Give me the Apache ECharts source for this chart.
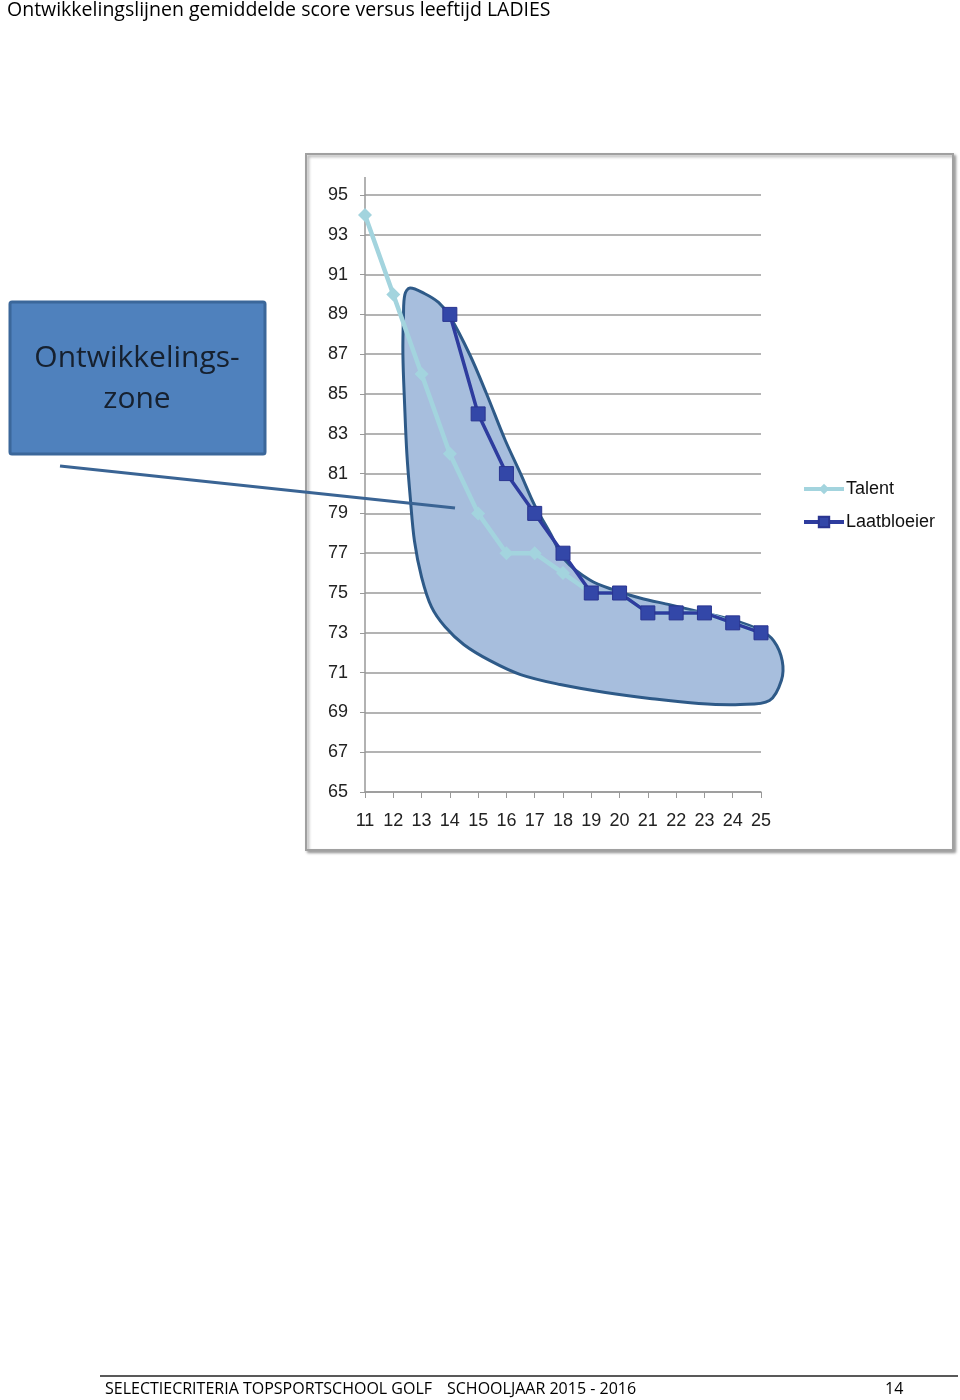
<!DOCTYPE html>
<html><head><meta charset="utf-8">
<style>html,body{margin:0;padding:0;background:#fff}#c{width:960px;height:1400px}</style>
<script src="https://cdn.jsdelivr.net/npm/echarts@6/dist/echarts.min.js"></script>
</head><body><div id="c"></div>
<script>
const ages = [11,12,13,14,15,16,17,18,19,20,21,22,23,24,25];
const talent = [94,90,86,82,79,77,77,76,75,75,74,74,74,73.5,73];
const laatbloeier = [null,null,null,89,84,81,79,77,75,75,74,74,74,73.5,73];
const yTicks = {min:65,max:95,interval:2};
// outline of the development zone, [age, score]
const zoneX = [12.59,13.1,13.6,14.0,14.71,15.3,15.95,16.5,17.0,17.55,18.07,18.95,19.8,20.72,21.8,22.84,24.0,24.96,25.45,25.75,25.72,25.3,24.26,22.8,21.07,19.5,17.9,16.5,15.42,14.5,13.83,13.35,13.0,12.75,12.6,12.48,12.4,12.34,12.36,12.41];
const zoneY = [90.33,90.05,89.6,88.9,86.96,85.0,82.7,81.0,79.4,78.0,76.66,75.65,75.15,74.75,74.4,74.05,73.65,73.14,72.6,71.6,70.6,69.6,69.4,69.45,69.7,70.0,70.4,70.9,71.6,72.4,73.3,74.3,75.8,77.6,79.8,82.0,84.5,87.0,88.9,90.0];

const chart = echarts.init(document.getElementById('c'));
const zone = zoneX.map((x,i)=>[x,zoneY[i]]);
const font = '"Liberation Sans", Arial, sans-serif';
chart.setOption({
  animation:false,
  graphic:[
    {type:'text',left:7,top:0,style:{text:'Ontwikkelingslijnen gemiddelde score versus leeftijd LADIES',font:'19.5px "Open Sans", sans-serif',fill:'#000'}},
    {type:'rect',shape:{x:306,y:154,width:647,height:696},style:{fill:'#fff',stroke:'#a0a0a0',lineWidth:2,shadowColor:'rgba(0,0,0,0.35)',shadowOffsetX:2,shadowOffsetY:2,shadowBlur:3},z:-10},
    {type:'rect',shape:{x:10,y:302,width:255,height:152,r:2},style:{fill:'#4F81BD',stroke:'#3B679A',lineWidth:3}},
    {type:'text',x:137,y:358,style:{text:'Ontwikkelings-',font:'30px "Open Sans", sans-serif',fill:'#16202e',align:'center',verticalAlign:'middle'}},
    {type:'text',x:137,y:399,style:{text:'zone',font:'30px "Open Sans", sans-serif',fill:'#16202e',align:'center',verticalAlign:'middle'}},
    {type:'line',shape:{x1:60,y1:466,x2:455,y2:508},style:{stroke:'#3A6494',lineWidth:3},z:100},
    {type:'line',shape:{x1:365,y1:177,x2:365,y2:195},style:{stroke:'#999',lineWidth:1.5}},
    {type:'line',shape:{x1:100,y1:1376,x2:958,y2:1376},style:{stroke:'#222',lineWidth:1.5}},
    {type:'text',left:105,top:1381,style:{text:'SELECTIECRITERIA TOPSPORTSCHOOL GOLF',font:'16px "Open Sans", sans-serif',fill:'#000'}},
    {type:'text',left:447,top:1381,style:{text:'SCHOOLJAAR 2015 - 2016',font:'16px "Open Sans", sans-serif',fill:'#000'}},
    {type:'text',left:885,top:1381,style:{text:'14',font:'16px "Open Sans", sans-serif',fill:'#000'}}
  ],
  grid:{left:365,right:199,top:195,height:597},
  legend:{orient:'vertical',left:797,top:475,itemWidth:40,itemHeight:13,itemGap:15,
    textStyle:{fontFamily:font,fontSize:18,color:'#111',padding:[0,0,0,-3]},
    data:[{name:'Talent',lineStyle:{width:4}},{name:'Laatbloeier',lineStyle:{width:4}}]},
  xAxis:{type:'value',min:11,max:25,interval:1,
    axisLine:{lineStyle:{color:'#999',width:1.5}},axisTick:{show:true,length:6,lineStyle:{color:'#999'}},
    splitLine:{show:false},axisLabel:{fontFamily:font,fontSize:18,color:'#222',margin:20}},
  yAxis:{type:'value',min:yTicks.min,max:yTicks.max,interval:yTicks.interval,
    axisLine:{show:true,lineStyle:{color:'#999',width:1.5}},axisTick:{show:true,length:5,lineStyle:{color:'#999'}},
    splitLine:{lineStyle:{color:'#9a9a9a',width:1.5}},axisLabel:{fontFamily:font,fontSize:18,color:'#222',margin:17}},
  series:[
    {type:'custom',name:'zone',z:1,silent:true,data:[0],
      renderItem:(params,api)=>({type:'polygon',shape:{points:zone.map(p=>api.coord(p)),smooth:0.35},
        style:{fill:'#A7BEDD',stroke:'#2E5A88',lineWidth:3}})},
    {type:'line',name:'Talent',z:3,data:ages.map((a,i)=>[a,talent[i]]),
      symbol:'diamond',symbolSize:14,lineStyle:{color:'#A3D4DE',width:4.5},itemStyle:{color:'#A3D4DE'}},
    {type:'line',name:'Laatbloeier',z:4,data:ages.map((a,i)=>[a,laatbloeier[i]]).filter(d=>d[1]!==null),
      symbol:'rect',symbolSize:14,lineStyle:{color:'#2E3C9E',width:3.5},itemStyle:{color:'#3347A8',borderColor:'#2A3590',borderWidth:1}}
  ]
});
</script></body></html>
